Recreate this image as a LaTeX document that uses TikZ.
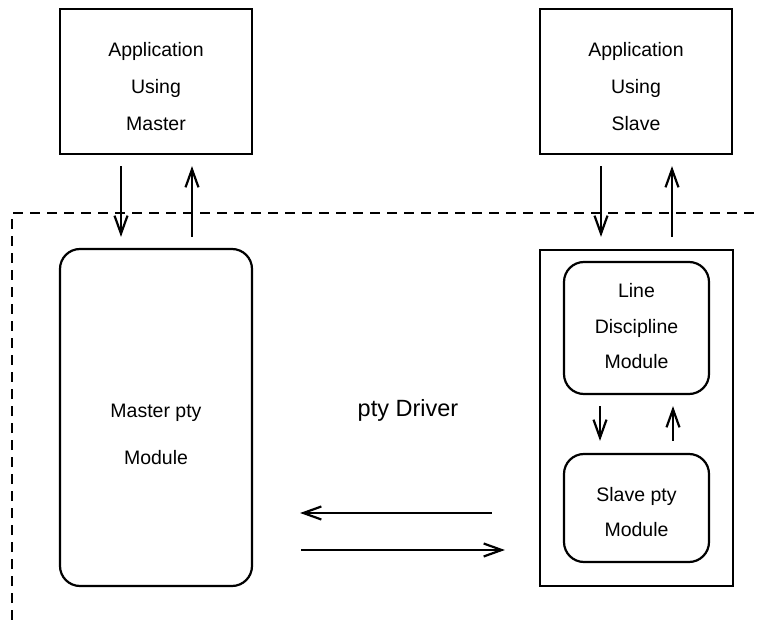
\documentclass[tikz,border=0pt]{standalone}
\usepackage{fontspec}
\setmainfont{Liberation Sans}
\usetikzlibrary{arrows.meta,calc}
\begin{document}
\begin{tikzpicture}[x=1pt,y=-1pt,
  box/.style={draw,line width=2.2pt,rectangle,inner sep=0pt},
  rbox/.style={box,rounded corners=20pt},
  lbl/.style={align=center,inner sep=0pt,font=\fontsize{19.5}{37}\selectfont},
  arr/.style={line width=2.2pt,-{Straight Barb[length=18pt,width=13pt,line width=2.2pt]}},
  dashline/.style={line width=2.2pt,dash pattern=on 10pt off 7pt}]
\useasboundingbox (0,0) rectangle (758,620);
% boxes
\node[box,minimum width=192pt,minimum height=145pt] (am) at (156,81.5) {};
\node[box,minimum width=192pt,minimum height=145pt] (as) at (636,81.5) {};
\node[rbox,minimum width=192pt,minimum height=337pt] (mm) at (156,417.5) {};
\node[box,minimum width=193pt,minimum height=336pt] (drv) at (636.5,418) {};
\node[rbox,minimum width=145pt,minimum height=132pt] (ld) at (636.5,328) {};
\node[rbox,minimum width=145pt,minimum height=108pt] (sp) at (636.5,508) {};
% labels
\node[lbl] (amt) at (156,87) {Application\\Using\\Master};
\node[lbl] (ast) at (636,87) {Application\\Using\\Slave};
\node[lbl,font=\fontsize{19.5}{47}\selectfont] (mmt) at (156,434.5) {Master pty\\Module};
\node[lbl,font=\fontsize{19.5}{35.5}\selectfont] (ldt) at (636.5,326.5) {Line\\Discipline\\Module};
\node[lbl,font=\fontsize{19.5}{35}\selectfont] (spt) at (636.5,512.5) {Slave pty\\Module};
\node[inner sep=0pt,font=\fontsize{23.5}{27}\selectfont] (pd) at (408,410) {pty Driver};
% dashed boundary
\draw[dashline] (12,620) -- (12,213) -- (758,213);
% arrows
\draw[arr] ([xshift=-35pt,yshift=-11pt]am.south) -- ([xshift=-35pt,yshift=11pt]mm.north);
\draw[arr] ([xshift=36pt,yshift=11pt]mm.north) -- ([xshift=36pt,yshift=-11pt]am.south);
\draw[arr] ([xshift=-35pt,yshift=-11pt]as.south) -- ([xshift=-35.5pt,yshift=12pt]drv.north);
\draw[arr] ([xshift=35.5pt,yshift=12pt]drv.north) -- ([xshift=36pt,yshift=-11pt]as.south);
\draw[arr] ([xshift=-36.5pt,yshift=-11pt]ld.south) -- ([xshift=-36.5pt,yshift=12pt]sp.north);
\draw[arr] ([xshift=36.5pt,yshift=12pt]sp.north) -- ([xshift=36.5pt,yshift=-11pt]ld.south);
\draw[arr] ($(drv.west |- 0,513)+(-47,0)$) -- ($(mm.east |- 0,513)+(47,0)$);
\draw[arr] ($(mm.east |- 0,550)+(48,0)$) -- ($(drv.west |- 0,550)+(-34,0)$);
\end{tikzpicture}
\end{document}
